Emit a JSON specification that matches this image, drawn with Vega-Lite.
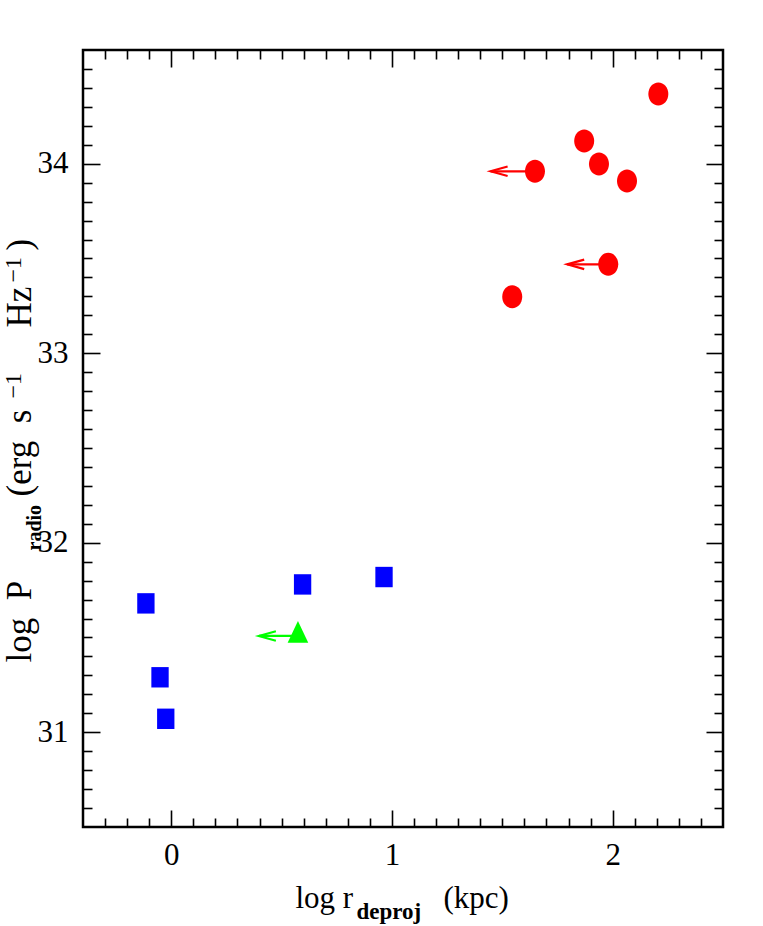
{
  "$schema": "https://vega.github.io/schema/vega-lite/v6.json",
  "width": 640,
  "height": 777,
  "autosize": {"type": "none"},
  "padding": {"left": 83, "top": 50, "right": 40, "bottom": 99},
  "background": "white",
  "config": {
    "view": {"stroke": "black", "strokeWidth": 2.5},
    "axis": {
      "domain": false,
      "grid": false,
      "tickColor": "black",
      "tickWidth": 1.6,
      "labelFont": "Liberation Serif",
      "labelFontSize": 31,
      "labelColor": "black",
      "labelPadding": 30,
      "titleFont": "Liberation Serif",
      "titleFontSize": 31,
      "titleFontWeight": "normal",
      "titleColor": "black"
    }
  },
  "datasets": {
    "pts": [
      {"kind": "circle", "x": 2.207, "y": 34.368},
      {"kind": "circle", "x": 1.871, "y": 34.12},
      {"kind": "circle", "x": 1.938, "y": 33.998},
      {"kind": "circle", "x": 2.065, "y": 33.909},
      {"kind": "circle", "x": 1.648, "y": 33.96, "xlim": 1.447},
      {"kind": "circle", "x": 1.98, "y": 33.469, "xlim": 1.794},
      {"kind": "circle", "x": 1.545, "y": 33.298},
      {"kind": "square", "x": -0.115, "y": 31.68},
      {"kind": "square", "x": -0.051, "y": 31.29},
      {"kind": "square", "x": -0.025, "y": 31.071},
      {"kind": "square", "x": 0.595, "y": 31.78},
      {"kind": "square", "x": 0.964, "y": 31.819},
      {"kind": "triangle", "x": 0.574, "y": 31.508, "xlim": 0.397}
    ]
  },
  "data": {"name": "pts"},
  "resolve": {"axis": {"x": "independent", "y": "independent"}},
  "layer": [
    {
      "transform": [{"filter": "datum.kind === 'circle' && isValid(datum.xlim)"}],
      "mark": {"type": "rule", "color": "#ff0000", "strokeWidth": 2.2},
      "encoding": {
        "x": {"field": "x", "type": "quantitative", "scale": {"domain": [-0.4, 2.5], "nice": false, "zero": false},
              "axis": {"orient": "top", "values": [-0.3,-0.2,-0.1,0.1,0.2,0.3,0.4,0.5,0.6,0.7,0.8,0.9,1.1,1.2,1.3,1.4,1.5,1.6,1.7,1.8,1.9,2.1,2.2,2.3,2.4], "tickSize": -9, "labels": false, "title": null}},
        "x2": {"field": "xlim"},
        "y": {"field": "y", "type": "quantitative", "scale": {"domain": [30.5, 34.6], "nice": false, "zero": false},
              "axis": {"orient": "right", "values": [30.6,30.7,30.8,30.9,31.1,31.2,31.3,31.4,31.5,31.6,31.7,31.8,31.9,32.1,32.2,32.3,32.4,32.5,32.6,32.7,32.8,32.9,33.1,33.2,33.3,33.4,33.5,33.6,33.7,33.8,33.9,34.1,34.2,34.3,34.4,34.5], "tickSize": -9, "labels": false, "title": null}}
      }
    },
    {
      "transform": [{"filter": "datum.kind === 'triangle'"}],
      "mark": {"type": "rule", "color": "#00ff00", "strokeWidth": 2.2},
      "encoding": {
        "x": {"field": "x", "type": "quantitative", "scale": {"domain": [-0.4, 2.5], "nice": false, "zero": false},
              "axis": {"orient": "bottom", "ticks": false, "labels": false, "title": "(kpc)", "titleX": 360, "titleY": 80, "titleAlign": "left", "titleBaseline": "alphabetic", "titleAngle": 0}},
        "x2": {"field": "xlim"},
        "y": {"field": "y", "type": "quantitative", "scale": {"domain": [30.5, 34.6], "nice": false, "zero": false},
              "axis": {"orient": "left", "ticks": false, "labels": false, "title": "(erg\u00a0\u00a0s", "titleFontSize": 35, "titleX": -53, "titleY": 446, "titleAlign": "left", "titleBaseline": "alphabetic", "titleAngle": -90}}
      }
    },
    {
      "transform": [{"filter": "datum.kind === 'circle' && isValid(datum.xlim)"}],
      "mark": {"type": "point", "shape": "M1,-0.28L0,0L1,0.28", "size": 1156, "filled": false, "stroke": "#ff0000", "strokeWidth": 2.2, "opacity": 1},
      "encoding": {
        "x": {"field": "xlim", "type": "quantitative", "scale": {"domain": [-0.4, 2.5], "nice": false, "zero": false},
              "axis": {"orient": "bottom", "ticks": false, "labels": false, "title": "−1", "titleFontSize": 24, "titleX": -63, "titleY": -429, "titleAlign": "left", "titleBaseline": "alphabetic", "titleAngle": -90}},
        "y": {"field": "y", "type": "quantitative", "scale": {"domain": [30.5, 34.6], "nice": false, "zero": false},
              "axis": {"orient": "left", "ticks": false, "labels": false, "title": "Hz", "titleFontSize": 35, "titleX": -53, "titleY": 277, "titleAlign": "left", "titleBaseline": "alphabetic", "titleAngle": -90}}
      }
    },
    {
      "transform": [{"filter": "datum.kind === 'triangle'"}],
      "mark": {"type": "point", "shape": "M1,-0.28L0,0L1,0.28", "size": 1156, "filled": false, "stroke": "#00ff00", "strokeWidth": 2.2, "opacity": 1},
      "encoding": {
        "x": {"field": "xlim", "type": "quantitative", "scale": {"domain": [-0.4, 2.5], "nice": false, "zero": false},
              "axis": {"orient": "bottom", "ticks": false, "labels": false, "title": "−1", "titleFontSize": 24, "titleX": -63, "titleY": -545, "titleAlign": "left", "titleBaseline": "alphabetic", "titleAngle": -90}},
        "y": {"field": "y", "type": "quantitative", "scale": {"domain": [30.5, 34.6], "nice": false, "zero": false},
              "axis": {"orient": "left", "ticks": false, "labels": false, "title": ")", "titleFontSize": 35, "titleX": -53, "titleY": 200, "titleAlign": "left", "titleBaseline": "alphabetic", "titleAngle": -90}}
      }
    },
    {
      "transform": [{"filter": "datum.kind === 'circle'"}],
      "mark": {"type": "point", "shape": "M-0.87,0A0.87,1,0,1,0,0.87,0A0.87,1,0,1,0,-0.87,0Z", "size": 529, "filled": true, "color": "#ff0000", "opacity": 1, "strokeWidth": 0},
      "encoding": {
        "x": {"field": "x", "type": "quantitative", "scale": {"domain": [-0.4, 2.5], "nice": false, "zero": false},
              "axis": {"orient": "bottom", "values": [0, 1, 2], "tickSize": -17, "labels": true, "labelPadding": 30, "title": "log r", "titleX": 212, "titleY": 80, "titleAlign": "left", "titleBaseline": "alphabetic", "titleAngle": 0}},
        "y": {"field": "y", "type": "quantitative", "scale": {"domain": [30.5, 34.6], "nice": false, "zero": false},
              "axis": {"orient": "left", "values": [31, 32, 33, 34], "tickSize": -17, "labels": true, "labelPadding": 32, "title": "log\u00a0\u00a0P", "titleFontSize": 35, "titleX": -53, "titleY": 612, "titleAlign": "left", "titleBaseline": "alphabetic", "titleAngle": -90}}
      }
    },
    {
      "transform": [{"filter": "datum.kind === 'square'"}],
      "mark": {"type": "point", "shape": "M-0.85,-1H0.85V1H-0.85Z", "size": 416, "filled": true, "color": "#0000ff", "opacity": 1, "strokeWidth": 0},
      "encoding": {
        "x": {"field": "x", "type": "quantitative", "scale": {"domain": [-0.4, 2.5], "nice": false, "zero": false},
              "axis": {"orient": "bottom", "values": [-0.3,-0.2,-0.1,0.1,0.2,0.3,0.4,0.5,0.6,0.7,0.8,0.9,1.1,1.2,1.3,1.4,1.5,1.6,1.7,1.8,1.9,2.1,2.2,2.3,2.4], "tickSize": -9, "labels": false, "title": "deproj", "titleFontSize": 23, "titleFontWeight": "bold", "titleX": 273, "titleY": 91, "titleAlign": "left", "titleBaseline": "alphabetic", "titleAngle": 0}},
        "y": {"field": "y", "type": "quantitative", "scale": {"domain": [30.5, 34.6], "nice": false, "zero": false},
              "axis": {"orient": "left", "values": [30.6,30.7,30.8,30.9,31.1,31.2,31.3,31.4,31.5,31.6,31.7,31.8,31.9,32.1,32.2,32.3,32.4,32.5,32.6,32.7,32.8,32.9,33.1,33.2,33.3,33.4,33.5,33.6,33.7,33.8,33.9,34.1,34.2,34.3,34.4,34.5], "tickSize": -9, "labels": false, "title": "radio", "titleFontSize": 20, "titleFontWeight": "bold", "titleX": -43, "titleY": 500, "titleAlign": "left", "titleBaseline": "alphabetic", "titleAngle": -90}}
      }
    },
    {
      "transform": [{"filter": "datum.kind === 'triangle'"}],
      "mark": {"type": "point", "shape": "M0,-1.38L0.95,0.62L-0.95,0.62Z", "size": 471, "filled": true, "color": "#00ff00", "opacity": 1, "strokeWidth": 0},
      "encoding": {
        "x": {"field": "x", "type": "quantitative", "scale": {"domain": [-0.4, 2.5], "nice": false, "zero": false},
              "axis": {"orient": "top", "values": [0, 1, 2], "tickSize": -17, "labels": false, "title": null}},
        "y": {"field": "y", "type": "quantitative", "scale": {"domain": [30.5, 34.6], "nice": false, "zero": false},
              "axis": {"orient": "right", "values": [31, 32, 33, 34], "tickSize": -17, "labels": false, "title": null}}
      }
    }
  ]
}
